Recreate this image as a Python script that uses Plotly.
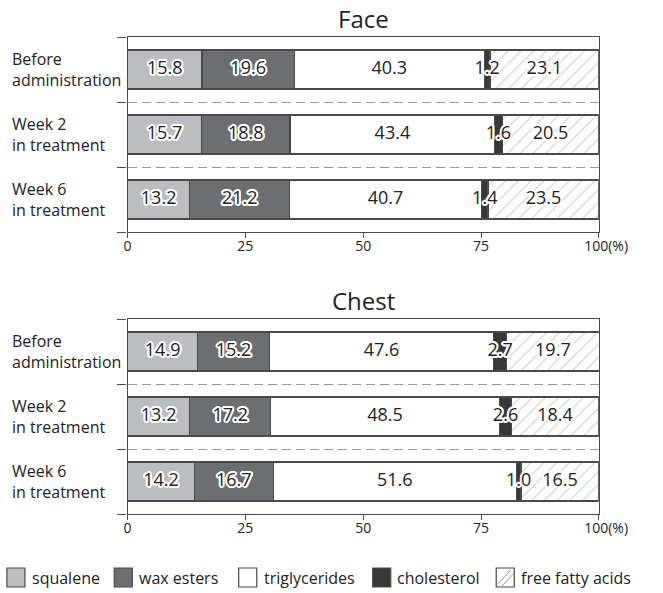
import math
import plotly.graph_objects as go

# ---------------- data ----------------
series_names = ["squalene", "wax esters", "triglycerides", "cholesterol", "free fatty acids"]
row_labels = ["Before<br>administration", "Week 2<br>in treatment", "Week 6<br>in treatment"]
panel_titles = ["Face", "Chest"]

face_squalene = [15.8, 15.7, 13.2]
face_wax_esters = [19.6, 18.8, 21.2]
face_triglycerides = [40.3, 43.4, 40.7]
face_cholesterol = [1.2, 1.6, 1.4]
face_ffa = [23.1, 20.5, 23.5]

chest_squalene = [14.9, 13.2, 14.2]
chest_wax_esters = [15.2, 17.2, 16.7]
chest_triglycerides = [47.6, 48.5, 51.6]
chest_cholesterol = [2.7, 2.6, 1.0]
chest_ffa = [19.7, 18.4, 16.5]

x_tickvals = [0, 25, 50, 75, 100]
x_ticktext = ["0", "25", "50", "75", "\u00a0\u00a0\u00a0\u00a0100(%)"]

# ---------------- styling ----------------
W, H = 663, 593
FONT = "Open Sans"
TXT = "#222222"
EDGE = "#4a4a4a"
fills = ["#bcbdc0", "#6d6e71", "#ffffff", "#383838", "#ffffff"]


def px(x):
    return x / W


def py(y):
    return 1 - y / H


x_dom = [px(130), px(626)]
y_doms = [[py(232), py(37)], [py(514), py(319)]]

halo = ", ".join(
    f"{2*math.cos(a*math.pi/8):.2f}px {2*math.sin(a*math.pi/8):.2f}px 0 #ffffff" for a in range(16)
)

panels = [
    [face_squalene, face_wax_esters, face_triglycerides, face_cholesterol, face_ffa],
    [chest_squalene, chest_wax_esters, chest_triglycerides, chest_cholesterol, chest_ffa],
]

fig = go.Figure()
rows = list(range(len(row_labels)))

for p, vals in enumerate(panels):
    xa = "x" if p == 0 else "x2"
    ya = "y" if p == 0 else "y2"
    for s, name in enumerate(series_names):
        marker = dict(color=fills[s], line=dict(color=EDGE, width=1.3))
        if s == 4:
            marker["pattern"] = dict(shape="/", fgcolor="#9a9a9a", bgcolor="#ffffff",
                                     size=9, solidity=0.12)
        fig.add_trace(go.Bar(
            x=vals[s], y=rows, orientation="h", name=name, marker=marker,
            width=0.6, xaxis=xa, yaxis=ya, showlegend=False, hoverinfo="x+name",
        ))
    # value labels at segment centres
    lx, ly, lt = [], [], []
    for r in rows:
        cum = 0.0
        for s in range(len(series_names)):
            v = vals[s][r]
            lx.append(cum + v / 2)
            ly.append(r)
            lt.append(f"{v:.1f}")
            cum += v
    fig.add_trace(go.Scatter(
        x=lx, y=ly, mode="text", text=lt, xaxis=xa, yaxis=ya, showlegend=False,
        textfont=dict(family=FONT, size=18, color=TXT, shadow=halo),
        hoverinfo="skip", cliponaxis=False,
    ))

axis_common_x = dict(
    range=[0, 100], domain=x_dom, tickmode="array", tickvals=x_tickvals, ticktext=x_ticktext,
    ticks="outside", ticklen=5, tickcolor=EDGE, tickwidth=1.3, ticklabelstandoff=-4,
    showline=True, linecolor=EDGE, linewidth=1.3, mirror=True,
    showgrid=False, zeroline=False, fixedrange=True,
    tickfont=dict(family=FONT, size=14, color=TXT),
)
axis_common_y = dict(
    range=[2.5, -0.5], tickmode="array", tickvals=[-0.5, 0.5, 1.5, 2.5],
    ticks="outside", ticklen=9, tickcolor=EDGE, tickwidth=1.3, showticklabels=False,
    showline=True, linecolor=EDGE, linewidth=1.3, mirror=True,
    showgrid=True, gridcolor="#9a9a9a", gridwidth=1, griddash="9px,5px",
    zeroline=False, fixedrange=True,
)

fig.update_layout(
    width=W, height=H, autosize=False,
    margin=dict(l=0, r=0, t=0, b=0),
    paper_bgcolor="white", plot_bgcolor="white",
    barmode="stack", bargap=0.4,
    font=dict(family=FONT, color=TXT),
    xaxis=dict(anchor="y", **axis_common_x),
    yaxis=dict(anchor="x", domain=y_doms[0], **axis_common_y),
    xaxis2=dict(anchor="y2", **axis_common_x),
    yaxis2=dict(anchor="x2", domain=y_doms[1], **axis_common_y),
)

annotations = []
# panel titles
for p, title in enumerate(panel_titles):
    annotations.append(dict(
        text=title, xref="paper", yref="paper", x=(x_dom[0] + x_dom[1]) / 2,
        y=y_doms[p][1] + 19 / H, xanchor="center", yanchor="middle", showarrow=False,
        font=dict(family=FONT, size=24, color=TXT),
    ))
# row labels (two lines each)
for p in range(2):
    ya = "y" if p == 0 else "y2"
    for r, lab in enumerate(row_labels):
        annotations.append(dict(
            text=lab, xref="paper", yref=ya, x=px(6), y=r, xanchor="left",
            yanchor="middle", align="left", showarrow=False,
            font=dict(family=FONT, size=16, color=TXT),
        ))

# legend (drawn manually to match the reference swatch sizes)
shapes = []
leg_x = [3, 116, 247, 388, 518]
leg_y0, leg_y1 = 568, 587
for s, name in enumerate(series_names):
    x0 = leg_x[s]
    shapes.append(dict(type="rect", xref="paper", yref="paper",
                       x0=px(x0), x1=px(x0 + 19), y0=py(leg_y1), y1=py(leg_y0),
                       fillcolor=fills[s], line=dict(color=EDGE, width=1.2)))
    if s == 4:
        for a, b in [((x0 + 2, leg_y1 - 3), (x0 + 15, leg_y0 + 2)),
                     ((x0 + 6, leg_y1 - 1), (x0 + 18, leg_y0 + 6))]:
            shapes.append(dict(type="line", xref="paper", yref="paper",
                               x0=px(a[0]), y0=py(a[1]), x1=px(b[0]), y1=py(b[1]),
                               line=dict(color="#9a9a9a", width=1)))
    annotations.append(dict(
        text=name, xref="paper", yref="paper", x=px(x0 + 24), y=py((leg_y0 + leg_y1) / 2),
        xanchor="left", yanchor="middle", showarrow=False,
        font=dict(family=FONT, size=16, color=TXT),
    ))

fig.update_layout(annotations=annotations, shapes=shapes)

fig.write_html(
    "out.html",
    config={"displayModeBar": False},
    post_script="document.body.style.margin='0px';document.body.style.overflow='hidden';",
)
